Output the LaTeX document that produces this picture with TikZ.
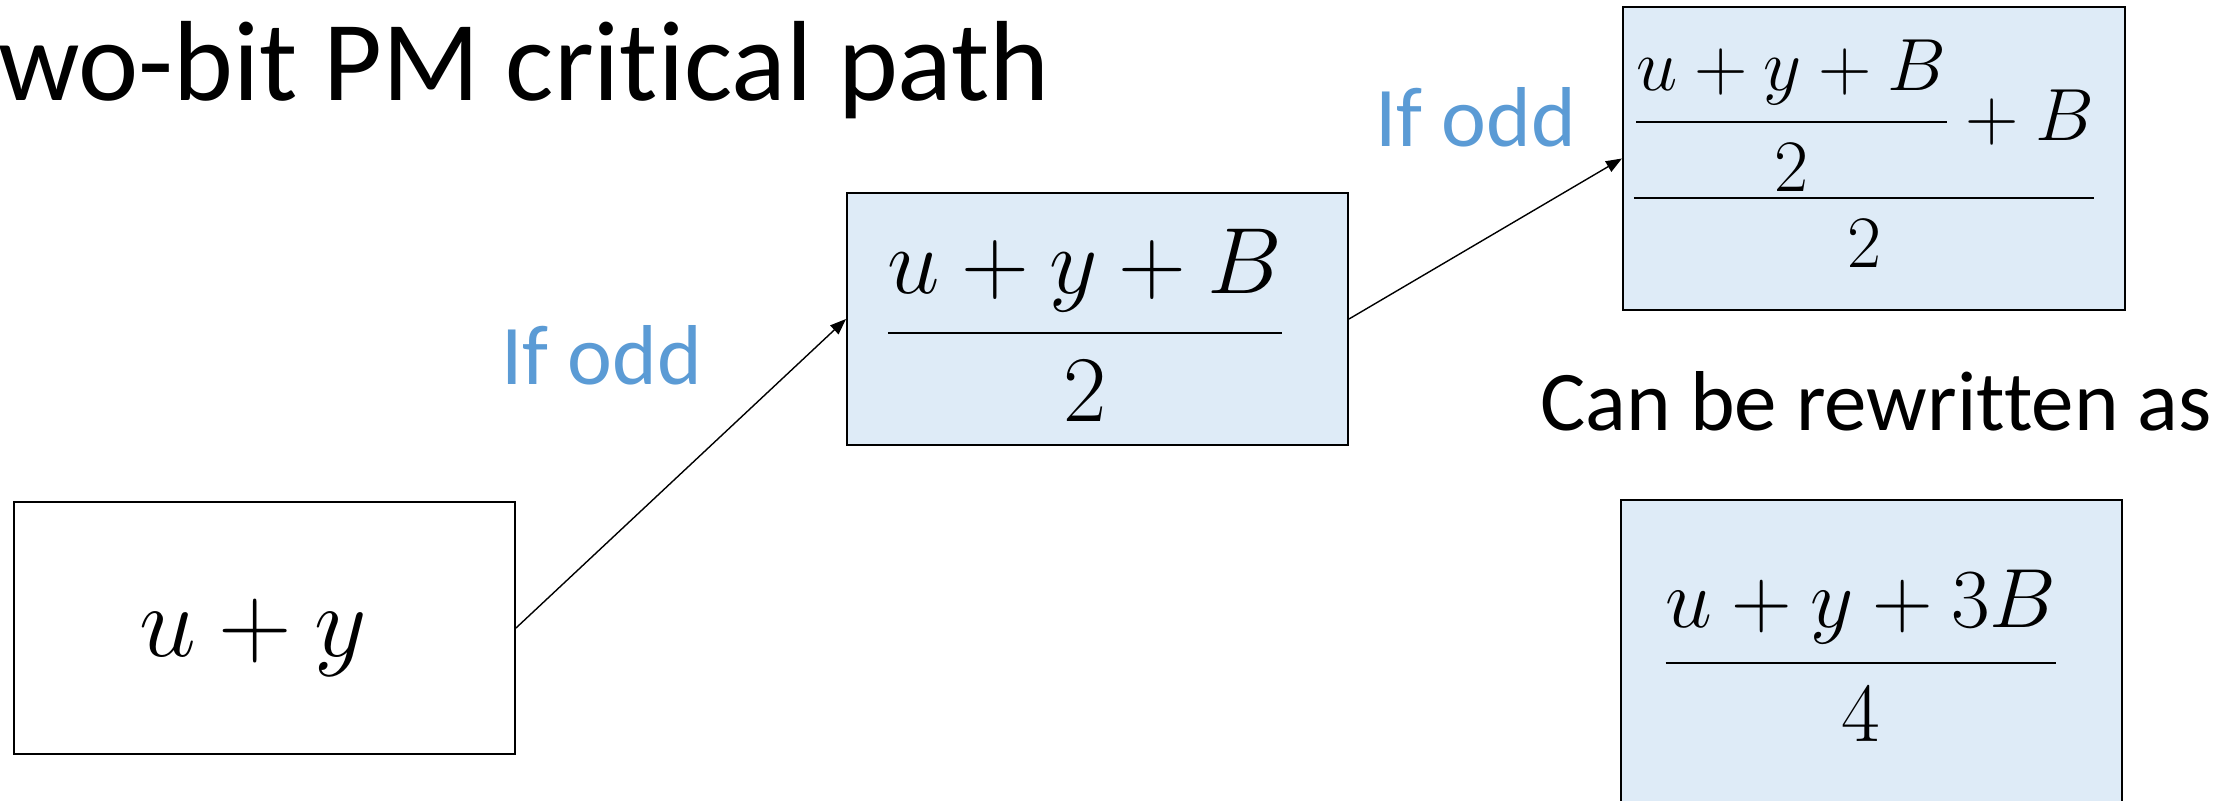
\RequirePackage{fix-cm}
\documentclass[tikz,border=0pt]{standalone}
\usepackage{amsmath}
\usepackage[no-math]{fontspec}
\setmainfont{Carlito}[Ligatures=NoCommon]
\usetikzlibrary{arrows.meta}
\definecolor{boxfill}{HTML}{DEEBF7}
\definecolor{oddblue}{HTML}{5B9BD5}
\begin{document}
\begin{tikzpicture}[x=0.5pt,y=-0.5pt,
  box/.style={draw=black, line width=1pt, inner sep=0pt, anchor=north west,
    minimum width=250.5pt, minimum height=126pt},
  shaded/.style={box, fill=boxfill},
  conn/.style={line width=0.7pt, -{Triangle[length=8pt,width=6pt]}},
  lbl/.style={inner sep=0pt, anchor=base west, font=\fontsize{42.5}{50}\selectfont},
  mathtxt/.style={inner sep=0pt, anchor=base}]
\useasboundingbox (0,0) rectangle (2240,801);
\clip (0,0) rectangle (2240,801);
\fill[white] (0,0) rectangle (2240,801);

\node[inner sep=0pt, anchor=base west, font=\fontsize{57}{68}\selectfont] (title) at (-2,101) {wo-bit PM critical path};

\node[box, fill=white] (b1) at (13,501) {};
\node[shaded] (b2) at (846,192) {};
\node[shaded, minimum width=251pt, minimum height=151.5pt] (b3) at (1622,6) {};
\node[shaded, minimum height=160pt] (b4) at (1620,499) {};

\node[mathtxt, font=\fontsize{51}{60}\selectfont] (t1) at (253,657) {$u+y$};
\node[mathtxt, font=\fontsize{47}{56}\selectfont] (t2) at (1085,357) {$\dfrac{u+y+B}{2}$};
\node[mathtxt, font=\fontsize{37}{44}\selectfont] (t3) at (1864,217) {$\dfrac{\dfrac{u+y+B}{2}+B}{2}$};
\node[mathtxt, font=\fontsize{42}{50}\selectfont] (t4) at (1861,684) {$\dfrac{u+y+3B}{4}$};

\draw[conn] (b1.east) -- (b2.west);
\draw[conn] (b2.east) -- (b3.west);

\node[lbl, text=oddblue] (odd1) at (501,385) {If odd};
\node[lbl, text=oddblue] (odd2) at (1375,147) {If odd};
\node[lbl] (rw) at (1540,431) {Can be rewritten as};
\end{tikzpicture}
\end{document}
